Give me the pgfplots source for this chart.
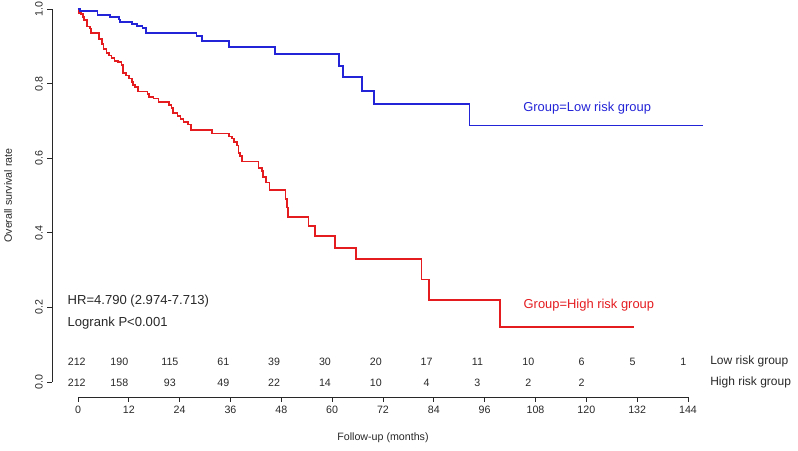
\documentclass[border=0pt]{standalone}
\usepackage{fontspec}
\setmainfont{Liberation Sans}
\usepackage{pgfplots}
\pgfplotsset{compat=1.18}
\usepackage{pgfplotstable}
\definecolor{kmblue}{RGB}{35,35,215}
\definecolor{kmred}{RGB}{228,28,32}
\definecolor{axgray}{RGB}{40,40,40}

\pgfplotstableread{
t S
0 1.000
0.5 0.995
4.6 0.984
7.6 0.979
9.7 0.972
10.0 0.966
12.7 0.959
13.9 0.955
15.2 0.949
16.0 0.935
28.0 0.928
29.2 0.914
35.7 0.899
46.5 0.879
61.6 0.848
62.5 0.817
67.0 0.781
69.9 0.745
92.4 0.688
147.6 0.688
}\lowrisk

\pgfplotstableread{
t S
0 1.000
0.1 0.990
0.7 0.987
1.2 0.979
1.5 0.970
2.1 0.953
2.8 0.948
3.0 0.935
5.0 0.920
5.6 0.906
6.0 0.893
6.7 0.883
7.3 0.875
7.9 0.869
8.6 0.861
9.5 0.857
10.3 0.850
10.7 0.828
11.3 0.822
12.1 0.814
12.7 0.805
12.9 0.796
13.5 0.790
14.2 0.779
16.4 0.772
16.8 0.765
17.8 0.760
19.0 0.751
21.5 0.743
22.1 0.734
22.5 0.722
23.5 0.713
24.2 0.705
24.9 0.697
26.0 0.690
26.6 0.676
31.7 0.666
35.7 0.658
36.3 0.653
36.9 0.644
37.5 0.634
37.9 0.614
38.2 0.606
38.8 0.591
42.6 0.573
43.4 0.566
43.7 0.550
44.3 0.535
45.2 0.515
49.0 0.490
49.3 0.468
49.6 0.443
54.4 0.418
55.9 0.391
60.7 0.360
65.6 0.330
81.1 0.275
82.9 0.220
99.6 0.147
131.3 0.147
}\highrisk

\pgfplotstableread{
t y n
-0.3 0.054 212
9.75 0.054 190
21.7 0.054 115
34.3 0.054 61
46.3 0.054 39
58.3 0.054 30
70.3 0.054 20
82.3 0.054 17
94.3 0.054 11
106.3 0.054 10
118.9 0.054 6
130.9 0.054 5
142.9 0.054 1
}\lowatrisk

\pgfplotstableread{
t y n
-0.3 -0.002 212
9.75 -0.002 158
21.7 -0.002 93
34.3 -0.002 49
46.3 -0.002 22
58.3 -0.002 14
70.3 -0.002 10
82.3 -0.002 4
94.3 -0.002 3
106.3 -0.002 2
118.9 -0.002 2
}\highatrisk

\begin{document}
\begin{tikzpicture}
\path[use as bounding box] (-58.5pt,-51pt) rectangle (540pt,286.5pt);
\begin{scope}[color=kmred, line width=1.3pt]
\begin{axis}[
  x=3.177pt, y=279.75pt,
  xmin=0, xmax=144, ymin=0, ymax=1,
  clip=false,
  axis x line*=bottom, axis y line*=left,
  axis x line shift=11.25pt, axis y line shift=19.5pt,
  axis line style={line width=0.7pt, draw=axgray, -},
  tick align=outside,
  major tick length=3.5pt,
  tick style={line width=0.7pt, draw=axgray},
  xtick={0,12,24,36,48,60,72,84,96,108,120,132,144},
  ytick={0,0.2,0.4,0.6,0.8,1},
  /pgf/number format/assume math mode=true,
  yticklabel style={rotate=90, anchor=south, font=\fontsize{8}{9}\selectfont, text=axgray,
    /pgf/number format/fixed, /pgf/number format/fixed zerofill, /pgf/number format/precision=1},
  xticklabel style={font=\fontsize{8}{9}\selectfont, text=axgray},
  xlabel={Follow-up (months)},
  ylabel={Overall survival rate},
  xlabel style={at={(axis description cs:0.5,-0.150)}, anchor=center, font=\fontsize{8}{9}\selectfont, text=axgray},
  ylabel style={at={(axis description cs:-0.1146,0.5)}, anchor=center, rotate=0, font=\fontsize{8}{9}\selectfont, text=axgray},
]
\addplot[const plot, draw=kmred, mark=none, line width=1.3pt] table[x=t, y=S] {\highrisk};

\addplot[draw=none, mark=none, nodes near coords, point meta=explicit symbolic,
  nodes near coords style={anchor=center, font=\fontsize{8}{9}\selectfont, text=axgray}]
  table[x=t, y=y, meta=n] {\lowatrisk};
\addplot[draw=none, mark=none, nodes near coords, point meta=explicit symbolic,
  nodes near coords style={anchor=center, font=\fontsize{8}{9}\selectfont, text=axgray}]
  table[x=t, y=y, meta=n] {\highatrisk};

\node[anchor=west, inner sep=0pt, font=\fontsize{9}{10}\selectfont, text=axgray] at (axis cs:149.2,0.054) {Low risk group};
\node[anchor=west, inner sep=0pt, font=\fontsize{9}{10}\selectfont, text=axgray] at (axis cs:149.2,-0.002) {High risk group};

\node[anchor=center, font=\fontsize{9.7}{11}\selectfont, text=kmblue] at (axis cs:120.2,0.735) {Group=Low risk group};
\node[anchor=center, font=\fontsize{9.7}{11}\selectfont, text=kmred] at (axis cs:120.6,0.205) {Group=High risk group};
\node[anchor=west, inner sep=0pt, font=\fontsize{9.8}{11}\selectfont, text=axgray] at (axis cs:-2.5,0.217) {HR=4.790 (2.974-7.713)};
\node[anchor=west, inner sep=0pt, font=\fontsize{9.8}{11}\selectfont, text=axgray] at (axis cs:-2.5,0.159) {Logrank P<0.001};
\end{axis}
\end{scope}
\begin{scope}[color=kmblue, line width=1.3pt]
\begin{axis}[
  x=3.177pt, y=279.75pt,
  xmin=0, xmax=144, ymin=0, ymax=1,
  clip=false, hide axis,
]
\addplot[const plot, draw=kmblue, mark=none, line width=1.3pt] table[x=t, y=S] {\lowrisk};
\end{axis}
\end{scope}
\end{tikzpicture}
\end{document}
